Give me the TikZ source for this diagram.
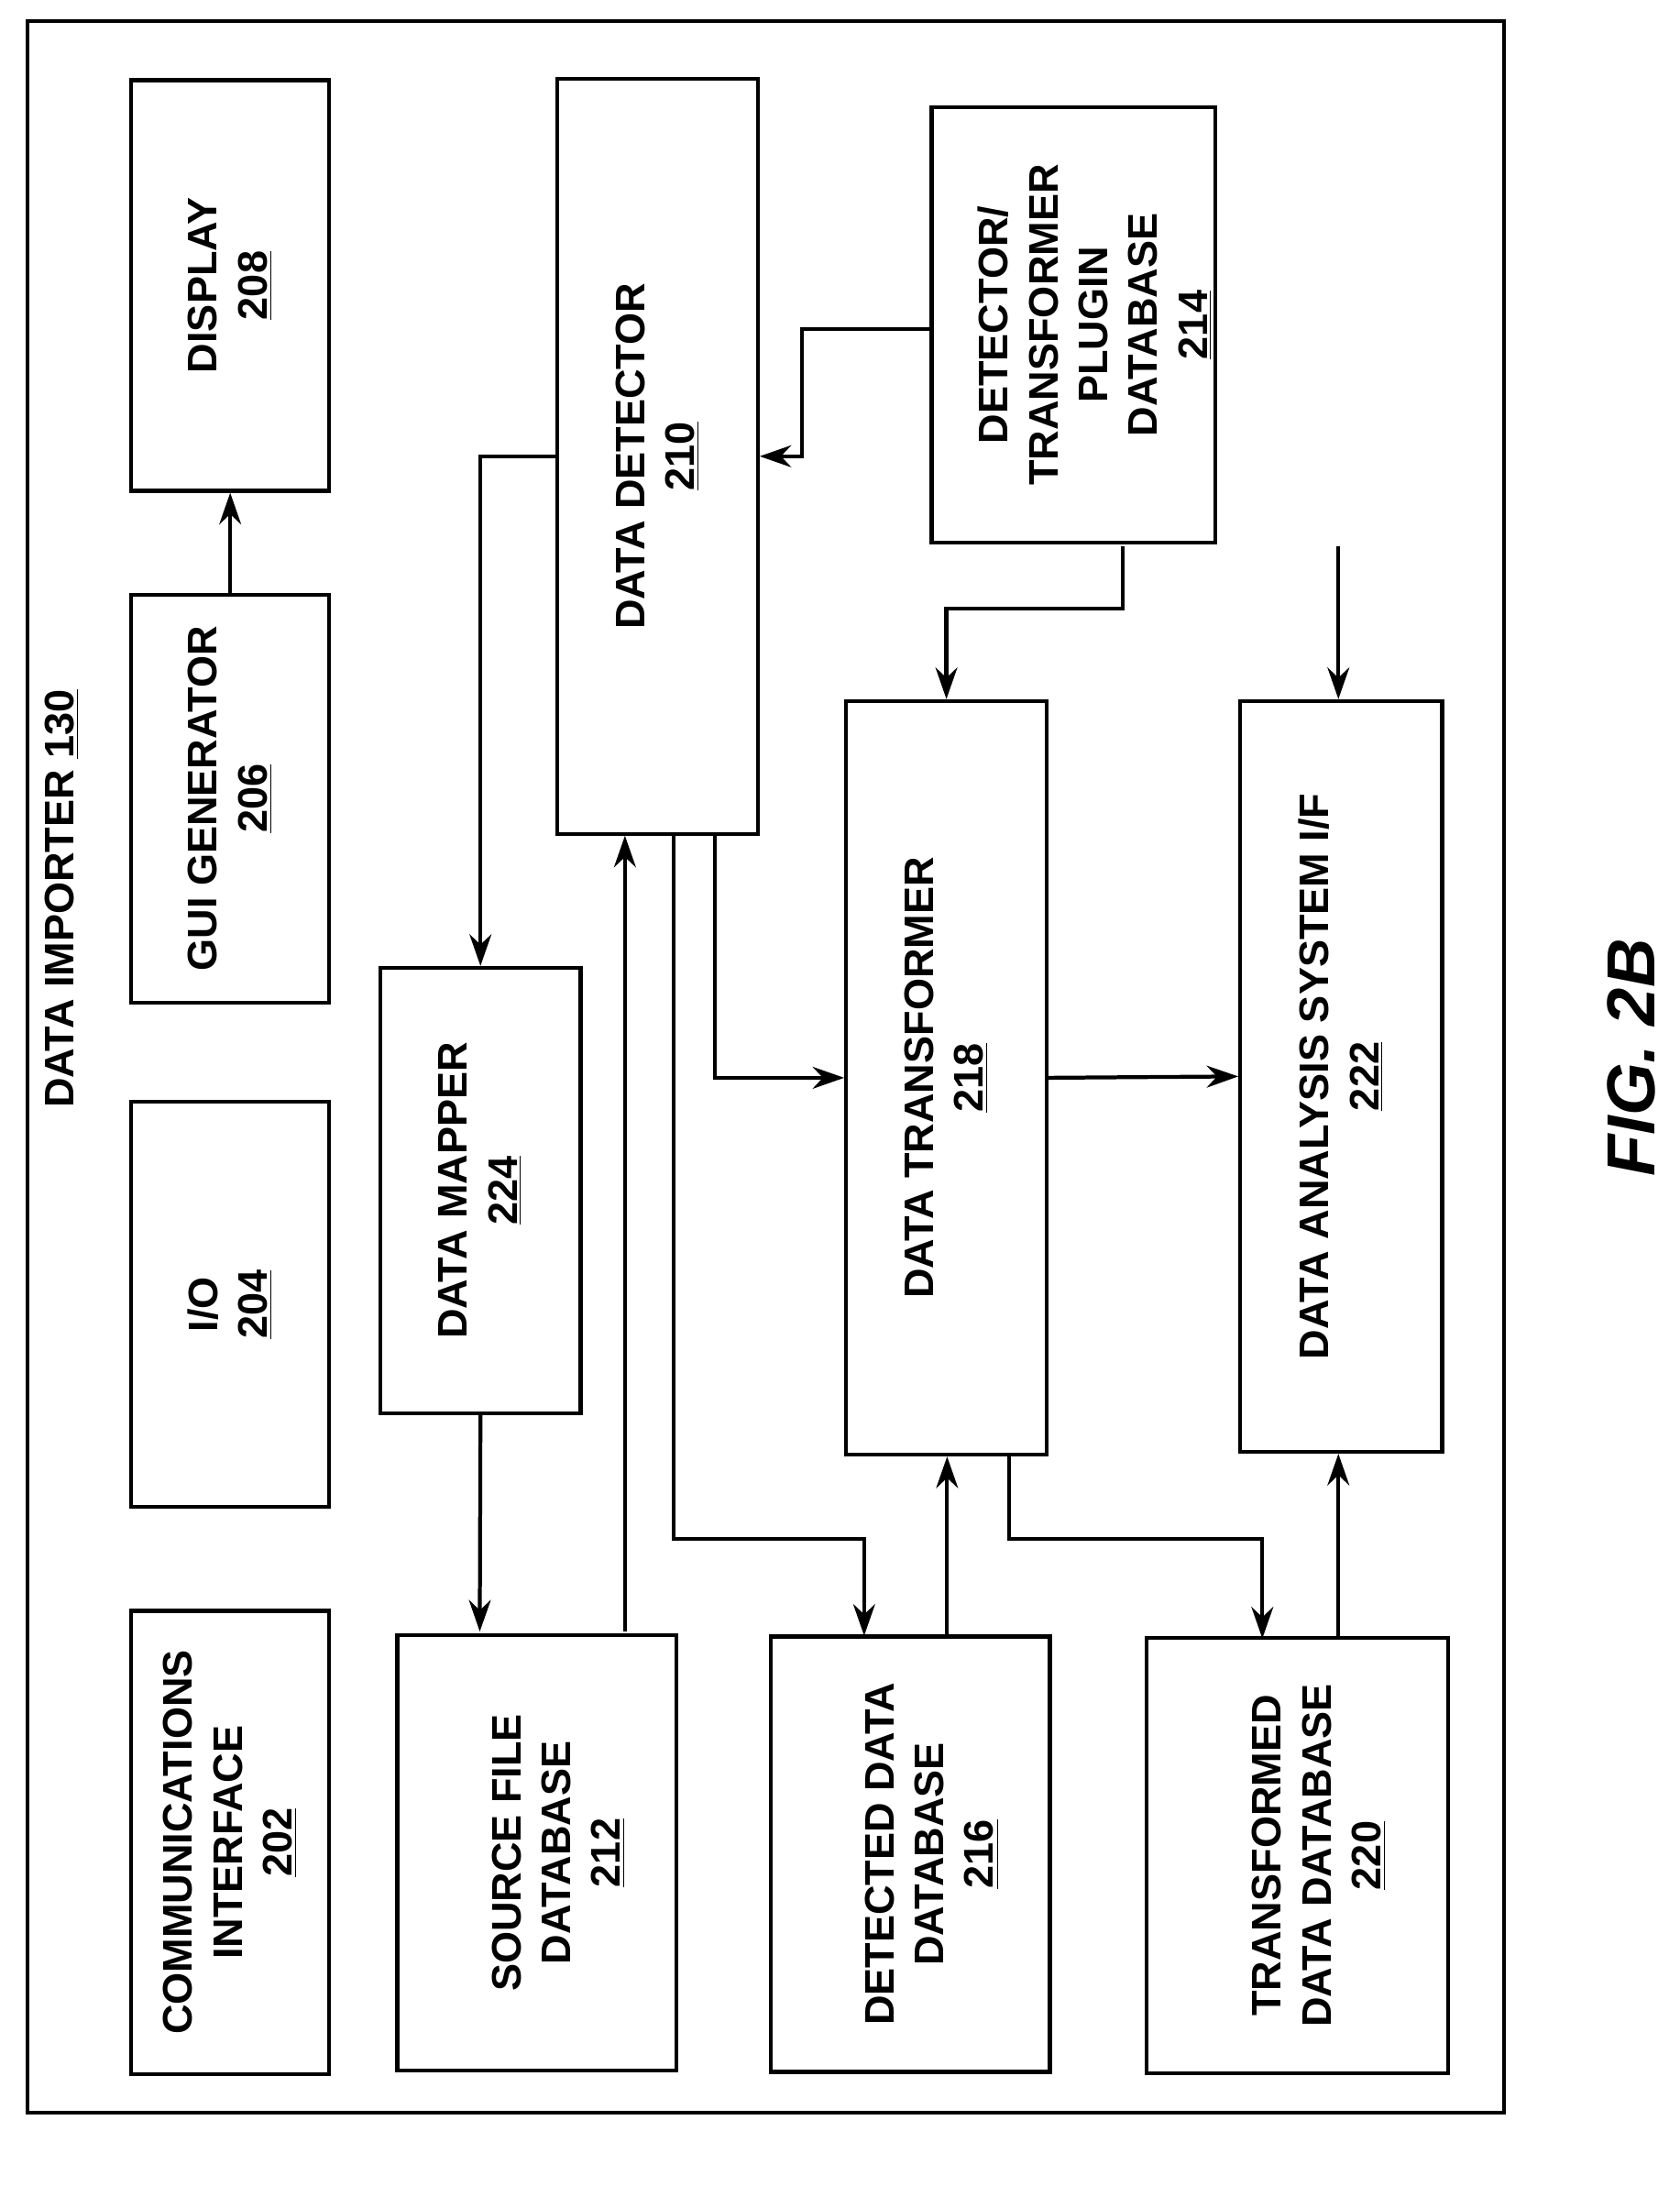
\documentclass[tikz,border=0pt]{standalone}
\usepackage{fontspec}
\setmainfont{Liberation Sans}
\usetikzlibrary{shapes.geometric,arrows.meta}
\begin{document}
\begin{tikzpicture}[x=0.02cm,y=0.02cm,line width=1.6pt,
    font=\fontsize{17}{20.5}\selectfont\bfseries,
    box/.style 2 args={draw,rectangle,rotate=90,align=center,inner sep=0pt,
      minimum width=#1*0.02cm,minimum height=#2*0.02cm},
    db/.style={draw,cylinder,rotate=90,shape border rotate=90,aspect=0.22,
      inner sep=0pt,minimum height=#1*0.02cm,minimum width=6.3cm},
    dbtext/.style={rotate=90,align=center,inner sep=0pt},
    arr/.style={-{Stealth[length=13pt,width=9pt]}}
   ]
  \useasboundingbox (0,0) rectangle (1215,-1581);
  \draw (20,-15) rectangle (1088,-1528);
  \node[rotate=90] (title) at (45,-650) {DATA IMPORTER \underline{130}};
  % boxes
  \node[box={335}{143}] (comm) at (166.5,-1332.5) {COMMUNICATIONS\\INTERFACE\\\underline{202}};
  \node[box={293}{143}] (io) at (166.5,-943.5) {I/O\\\underline{204}};
  \node[box={295}{143}] (gui) at (166.5,-577.5) {GUI GENERATOR\\\underline{206}};
  \node[box={297}{143}] (display) at (166.5,-206.5) {DISPLAY\\\underline{208}};
  \node[box={322}{145}] (mapper) at (347.5,-861) {DATA MAPPER\\\underline{224}};
  \node[box={546}{145}] (detector) at (475.5,-330) {DATA DETECTOR\\\underline{210}};
  \node[box={545}{145}] (transformer) at (684.5,-779.5) {DATA TRANSFORMER\\\underline{218}};
  \node[box={543}{146}] (analysis) at (970,-778.5) {DATA ANALYSIS SYSTEM I/F\\\underline{222}};
  % databases
  \node[db=202] (srcdb) at (389,-1340) {};
  \node[db=202] (detdb) at (659,-1341) {};
  \node[db=218] (trdb) at (939,-1342) {};
  \node[db=205] (plugdb) at (777,-235) {};
  \node[dbtext] (srctext) at ([xshift=0.3cm]srcdb.center) {SOURCE FILE\\DATABASE\\\underline{212}};
  \node[dbtext] (dettext) at ([xshift=0.3cm]detdb.center) {DETECTED DATA\\DATABASE\\\underline{216}};
  \node[dbtext] (trtext) at ([xshift=0.3cm]trdb.center) {TRANSFORMED\\DATA DATABASE\\\underline{220}};
  \node[dbtext] (plugtext) at ([xshift=0.3cm]plugdb.center) {DETECTOR/\\TRANSFORMER\\PLUGIN\\DATABASE\\\underline{214}};
  \coordinate (srctop) at (452,-1180);
  \coordinate (srcin) at (347,-1180);
  \coordinate (detin) at (625,-1183);
  \coordinate (detout) at (685,-1183);
  \coordinate (trin) at (913,-1185);
  \coordinate (trout) at (968,-1185);
  \coordinate (plugleft) at (675,-238);
  \coordinate (plugb1) at (812,-395);
  \coordinate (plugb2) at (968,-395);
  % connectors
  \draw[arr] (gui.east) -- (display.west);
  \draw[arr] (detector.north) -| (mapper.east);
  \draw[arr] (plugleft) -| (580,-330) -- (detector.south);
  \draw[arr] (plugb1) |- (684.5,-440) -- (transformer.east);
  \draw[arr] (plugb2) -- (plugb2 |- analysis.east);
  \draw[arr] (517,-603) |- (transformer.north);
  \draw[arr] (487,-603) |- (625,-1113) -- (detin);
  \draw[arr] (srctop) -- (srctop |- detector.west);
  \draw[arr] (mapper.west) -- (srcin);
  \draw[arr] (detout) -- (detout |- transformer.west);
  \draw[arr] (730,-1052) |- (913,-1113) -- (trin);
  \draw[arr] (trout) -- (trout |- analysis.west);
  \draw[arr] (transformer.south) -- (analysis.north);
  \node[rotate=90,font=\fontsize{28}{32}\selectfont\bfseries\itshape] (fig) at (1180,-765) {FIG. 2B};
\end{tikzpicture}
\end{document}
